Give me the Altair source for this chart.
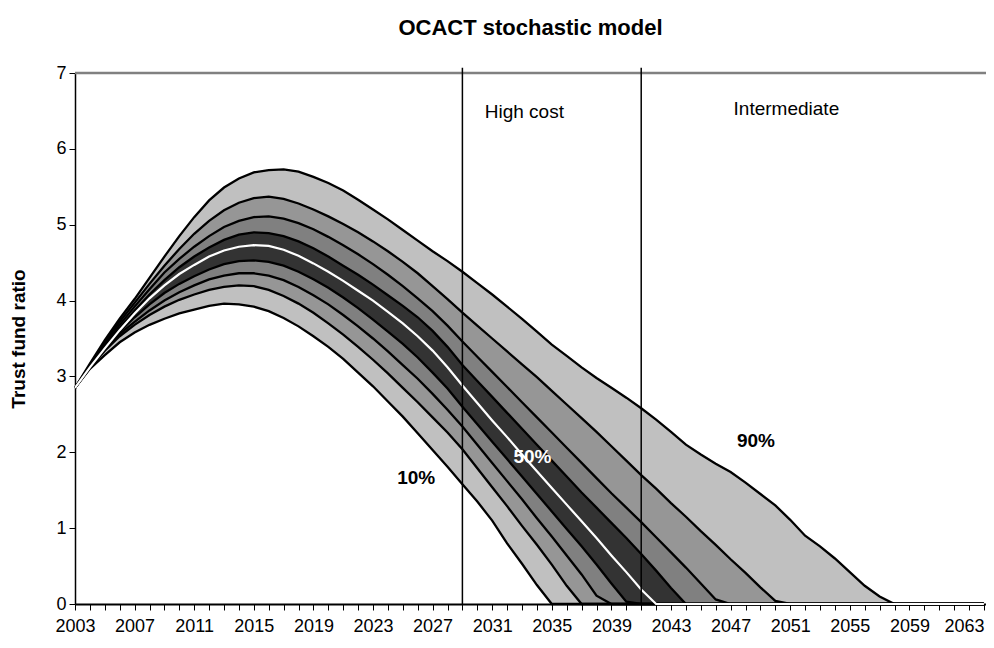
import altair as alt
import pandas as pd

years = list(range(2003, 2065))
tick_years = years
y_ticks = [0, 1, 2, 3, 4, 5, 6, 7]

# percentile paths (values until they reach zero; zero afterwards)
p10 = [2.85, 3.10, 3.28, 3.45, 3.58, 3.68, 3.76, 3.83, 3.88, 3.93, 3.96, 3.95, 3.92, 3.86, 3.77, 3.66,
       3.53, 3.39, 3.23, 3.05, 2.87, 2.67, 2.47, 2.25, 2.03, 1.81, 1.58, 1.35, 1.10, 0.80, 0.53, 0.25]
p20 = [2.85, 3.11, 3.34, 3.53, 3.68, 3.81, 3.92, 4.01, 4.08, 4.14, 4.18, 4.20, 4.19, 4.14, 4.06, 3.96,
       3.84, 3.70, 3.55, 3.39, 3.22, 3.04, 2.85, 2.66, 2.46, 2.26, 2.04, 1.79, 1.54, 1.29, 1.03, 0.78,
       0.52, 0.24]
p30 = [2.85, 3.12, 3.36, 3.56, 3.72, 3.87, 4.00, 4.11, 4.20, 4.28, 4.33, 4.36, 4.36, 4.33, 4.27, 4.18,
       4.07, 3.95, 3.81, 3.66, 3.50, 3.33, 3.15, 2.97, 2.77, 2.56, 2.34, 2.10, 1.86, 1.62, 1.38, 1.13,
       0.89, 0.64, 0.39, 0.11]
p40 = [2.85, 3.12, 3.37, 3.59, 3.78, 3.95, 4.10, 4.22, 4.32, 4.41, 4.48, 4.52, 4.53, 4.51, 4.46, 4.38,
       4.28, 4.17, 4.04, 3.90, 3.75, 3.59, 3.43, 3.25, 3.05, 2.84, 2.60, 2.37, 2.14, 1.91, 1.68, 1.45,
       1.22, 0.99, 0.76, 0.52, 0.27, 0.03]
p50 = [2.85, 3.12, 3.37, 3.61, 3.83, 4.03, 4.20, 4.35, 4.47, 4.58, 4.66, 4.71, 4.73, 4.72, 4.67, 4.59,
       4.49, 4.38, 4.26, 4.13, 4.00, 3.85, 3.70, 3.53, 3.34, 3.12, 2.88, 2.65, 2.42, 2.20, 1.97, 1.75,
       1.53, 1.31, 1.09, 0.87, 0.64, 0.42, 0.19]
p60 = [2.85, 3.13, 3.39, 3.64, 3.87, 4.08, 4.27, 4.44, 4.58, 4.70, 4.80, 4.87, 4.90, 4.89, 4.85, 4.78,
       4.69, 4.58, 4.46, 4.34, 4.21, 4.07, 3.93, 3.78, 3.60, 3.39, 3.15, 2.94, 2.73, 2.52, 2.31, 2.10,
       1.89, 1.68, 1.47, 1.27, 1.07, 0.87, 0.66, 0.44, 0.21]
p70 = [2.85, 3.14, 3.42, 3.68, 3.92, 4.15, 4.37, 4.55, 4.71, 4.85, 4.97, 5.05, 5.10, 5.11, 5.08, 5.02,
       4.94, 4.84, 4.73, 4.61, 4.48, 4.34, 4.19, 4.03, 3.86, 3.67, 3.46, 3.26, 3.06, 2.86, 2.66, 2.46,
       2.26, 2.06, 1.86, 1.66, 1.46, 1.27, 1.08, 0.88, 0.68, 0.48, 0.27, 0.06]
p80 = [2.85, 3.15, 3.45, 3.72, 3.97, 4.22, 4.46, 4.68, 4.88, 5.05, 5.19, 5.29, 5.35, 5.37, 5.34, 5.28,
       5.20, 5.11, 5.01, 4.90, 4.78, 4.65, 4.51, 4.36, 4.19, 4.02, 3.84, 3.67, 3.50, 3.33, 3.16, 2.99,
       2.81, 2.63, 2.45, 2.27, 2.08, 1.89, 1.70, 1.52, 1.33, 1.15, 0.96, 0.78, 0.59, 0.41, 0.22, 0.04]
p90 = [2.85, 3.17, 3.48, 3.76, 4.02, 4.30, 4.58, 4.85, 5.10, 5.32, 5.49, 5.61, 5.69, 5.72, 5.73, 5.70,
       5.63, 5.55, 5.45, 5.33, 5.20, 5.07, 4.93, 4.79, 4.65, 4.52, 4.38, 4.23, 4.08, 3.92, 3.76, 3.59,
       3.42, 3.27, 3.12, 2.98, 2.85, 2.72, 2.58, 2.43, 2.27, 2.10, 1.97, 1.85, 1.74, 1.60, 1.45, 1.30,
       1.11, 0.90, 0.76, 0.60, 0.42, 0.24, 0.10]

pct_names = ["10%", "20%", "30%", "40%", "50%", "60%", "70%", "80%", "90%"]
series = [p10, p20, p30, p40, p50, p60, p70, p80, p90]

scenario_years = [2029, 2041]
scenario_labels = ["High cost", "Intermediate"]
scenario_label_x = [2030.5, 2047.2]
scenario_label_y = [6.48, 6.53]

pct_label_text = ["10%", "50%", "90%"]
pct_label_x = [2025.9, 2033.7, 2048.7]
pct_label_y = [1.66, 1.94, 2.15]
pct_label_color = ["black", "white", "black"]

band_fill = ["#c0c0c0", "#969696", "#808080", "#333333", "#333333", "#808080", "#969696", "#c0c0c0"]


def pad(v):
    return v + [0.0] * (len(years) - len(v))


line_rows = []
for name, vals in zip(pct_names, series):
    for yr, v in zip(years, pad(vals)):
        line_rows.append({"year": yr, "value": v, "pct": name})
lines_df = pd.DataFrame(line_rows)

band_rows = []
band_names = [f"b{i}" for i in range(8)]
for i in range(8):
    lo, hi = pad(series[i]), pad(series[i + 1])
    for yr, a, b in zip(years, lo, hi):
        band_rows.append({"year": yr, "value": a, "hi": b, "band": band_names[i]})
bands_df = pd.DataFrame(band_rows)

FONT = "Liberation Sans"

xaxis = alt.Axis(
    values=tick_years,
    labelExpr="(datum.value - 2003) % 4 == 0 ? toString(datum.value) : ''",
    tickSize=6, tickColor="black", tickWidth=1,
    domainColor="black", domainWidth=2,
    labelFont=FONT, labelFontSize=18, labelColor="black", labelPadding=7,
    labelOffset={"condition": {"test": "datum.value == 2063", "value": -5}, "value": 0},
    labelOverlap=False, labelFlush=False, grid=False, title=None,
)
yaxis = alt.Axis(
    values=y_ticks, tickSize=6, tickColor="black", tickWidth=1,
    domainColor="black", domainWidth=1.5,
    labelFont=FONT, labelFontSize=18, labelColor="black", labelPadding=3,
    grid=False, title="Trust fund ratio", titleFont=FONT, titleFontSize=19,
    titleFontWeight="bold", titleColor="black", titlePadding=27,
)
xscale = alt.Scale(domain=[2003, 2064.14], nice=False, zero=False)
yscale = alt.Scale(domain=[0, 7], nice=False)


def X(field="year"):
    return alt.X(f"{field}:Q", scale=xscale, axis=xaxis)


def Y(field="value"):
    return alt.Y(f"{field}:Q", scale=yscale, axis=yaxis)


areas = alt.Chart(bands_df).mark_area(opacity=1, interpolate="linear").encode(
    x=X(), y=Y(), y2="hi:Q",
    color=alt.Color("band:N", scale=alt.Scale(domain=band_names, range=band_fill), legend=None),
    detail="band:N",
)

black_lines = alt.Chart(lines_df[lines_df["pct"] != "50%"]).mark_line(
    color="black", strokeWidth=2.3).encode(x=X(), y=Y(), detail="pct:N")
median_line = alt.Chart(lines_df[lines_df["pct"] == "50%"]).mark_line(
    color="white", strokeWidth=2.2).encode(x=X(), y=Y())

top_line = alt.Chart(pd.DataFrame({"value": [7]})).mark_rule(
    color="#808080", strokeWidth=2.5).encode(y=Y())

rules_df = pd.DataFrame({"year": scenario_years, "value": [7.07, 7.07], "bottom": [0, 0]})
vrules = alt.Chart(rules_df).mark_rule(color="black", strokeWidth=1.5).encode(
    x=X(), y=Y(), y2="bottom:Q")

scen_df = pd.DataFrame({"year": scenario_label_x, "value": scenario_label_y, "text": scenario_labels})
scen_text = alt.Chart(scen_df).mark_text(
    align="left", baseline="middle", font=FONT, fontSize=19, color="black").encode(
    x=X(), y=Y(), text="text:N")

pct_df = pd.DataFrame({"year": pct_label_x, "value": pct_label_y, "text": pct_label_text,
                       "col": pct_label_color})
pct_text = alt.Chart(pct_df).mark_text(
    align="center", baseline="middle", font=FONT, fontSize=19, fontWeight="bold").encode(
    x=X(), y=Y(), text="text:N", color=alt.Color("col:N", scale=None))

chart = alt.layer(
    areas, black_lines, median_line, top_line, vrules, scen_text, pct_text
).properties(
    width=911, height=531,
    title=alt.TitleParams("OCACT stochastic model", font=FONT, fontSize=22, fontWeight="bold",
                          color="black", anchor="middle", offset=24),
    padding={"left": 67, "top": 65, "right": 0, "bottom": 34},
    autosize=alt.AutoSizeParams(type="none"),
).configure_view(stroke=None).configure(background="white")

chart.save("out.html", embed_options={"renderer": "svg", "actions": False})
